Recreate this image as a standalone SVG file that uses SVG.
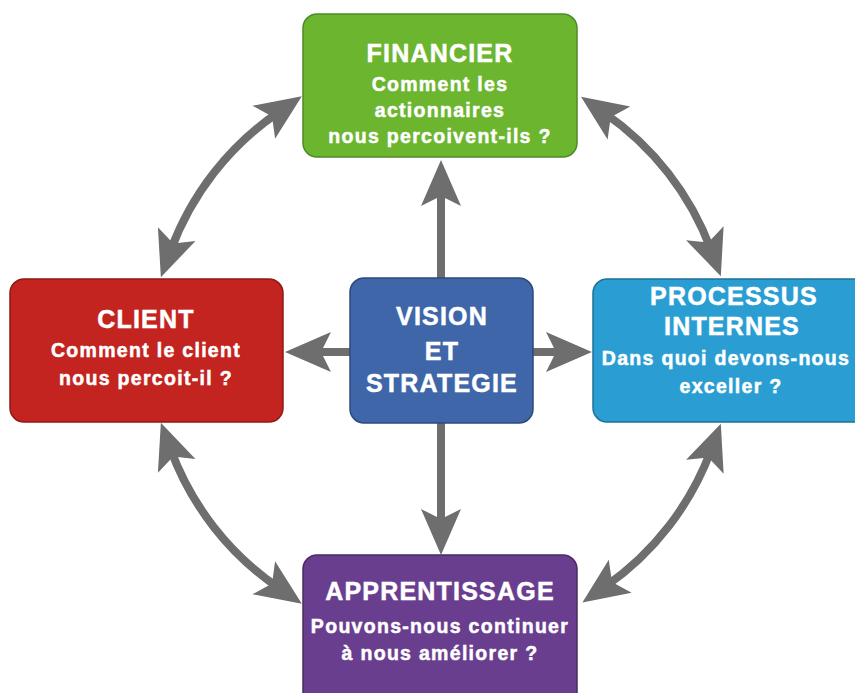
<svg xmlns="http://www.w3.org/2000/svg" width="855" height="693" viewBox="0 0 855 693">
  <style>
    .box { stroke-width: 1.5; }
    .t { font-family: "Liberation Sans", Arial, sans-serif; font-weight: bold; fill: #ffffff; stroke: #ffffff; stroke-width: 0.5; text-anchor: middle; }
    .title { font-size: 25px; letter-spacing: 1.2px; }
    .sub { font-size: 19.5px; letter-spacing: 1.3px; }
    .conn { fill: none; stroke: #6e6e6e; stroke-width: 8; }
  </style>
  <defs>
    <marker id="head" markerUnits="userSpaceOnUse" markerWidth="50" markerHeight="44" viewBox="0 -22 50 44" refX="20" refY="0" orient="auto-start-reverse">
      <path d="M48,0 L2,-20 L12,0 L2,20 Z" fill="#6e6e6e"/>
    </marker>
  </defs>
  <rect width="855" height="693" fill="#ffffff"/>

  <g id="connectors">
    <line class="conn" x1="441" y1="280" x2="441" y2="188" marker-end="url(#head)"/>
    <line class="conn" x1="441" y1="421" x2="441" y2="527" marker-end="url(#head)"/>
    <line class="conn" x1="352" y1="352" x2="313" y2="352" marker-end="url(#head)"/>
    <line class="conn" x1="531" y1="352" x2="564" y2="352" marker-end="url(#head)"/>
    <path class="conn" d="M278.7,112.1 A288,288 0 0 0 170.5,251.0" marker-start="url(#head)" marker-end="url(#head)"/>
    <path class="conn" d="M604.1,112.7 A288,288 0 0 1 711.1,250.1" marker-start="url(#head)" marker-end="url(#head)"/>
    <path class="conn" d="M170.5,449.0 A288,288 0 0 0 278.7,587.9" marker-start="url(#head)" marker-end="url(#head)"/>
    <path class="conn" d="M711.1,449.9 A288,288 0 0 1 605.4,586.5" marker-start="url(#head)" marker-end="url(#head)"/>
  </g>

  <g id="financier">
    <rect class="box" x="303" y="14" width="274" height="143" rx="14" fill="#6bb52f" stroke="#4f8b22"/>
    <text class="t title" x="440" y="62">FINANCIER</text>
    <text class="t sub" x="440" y="91">Comment les</text>
    <text class="t sub" x="440" y="117">actionnaires</text>
    <text class="t sub" x="440" y="143">nous percoivent-ils ?</text>
  </g>

  <g id="client">
    <rect class="box" x="10" y="279" width="273" height="143" rx="14" fill="#c3241f" stroke="#8e1a16"/>
    <text class="t title" x="146" y="328">CLIENT</text>
    <text class="t sub" x="146" y="357">Comment le client</text>
    <text class="t sub" x="146" y="385">nous percoit-il ?</text>
  </g>

  <g id="processus">
    <rect class="box" x="593" y="279" width="282" height="143" rx="14" fill="#2a9ed2" stroke="#1d7299"/>
    <text class="t title" x="734" y="305">PROCESSUS</text>
    <text class="t title" x="732" y="335">INTERNES</text>
    <text class="t sub" x="726" y="365">Dans quoi devons-nous</text>
    <text class="t sub" x="731" y="393">exceller ?</text>
  </g>

  <g id="apprentissage">
    <rect class="box" x="303" y="555" width="274" height="160" rx="14" fill="#6a3e8e" stroke="#4b2b66"/>
    <text class="t title" x="440" y="600">APPRENTISSAGE</text>
    <text class="t sub" x="440" y="633">Pouvons-nous continuer</text>
    <text class="t sub" x="440" y="660">à nous améliorer ?</text>
  </g>

  <g id="vision">
    <rect class="box" x="350" y="278" width="183" height="145" rx="14" fill="#3e66a8" stroke="#2c4a7c"/>
    <text class="t title" x="442" y="325">VISION</text>
    <text class="t title" x="442" y="360">ET</text>
    <text class="t title" x="442" y="392">STRATEGIE</text>
  </g>
</svg>
